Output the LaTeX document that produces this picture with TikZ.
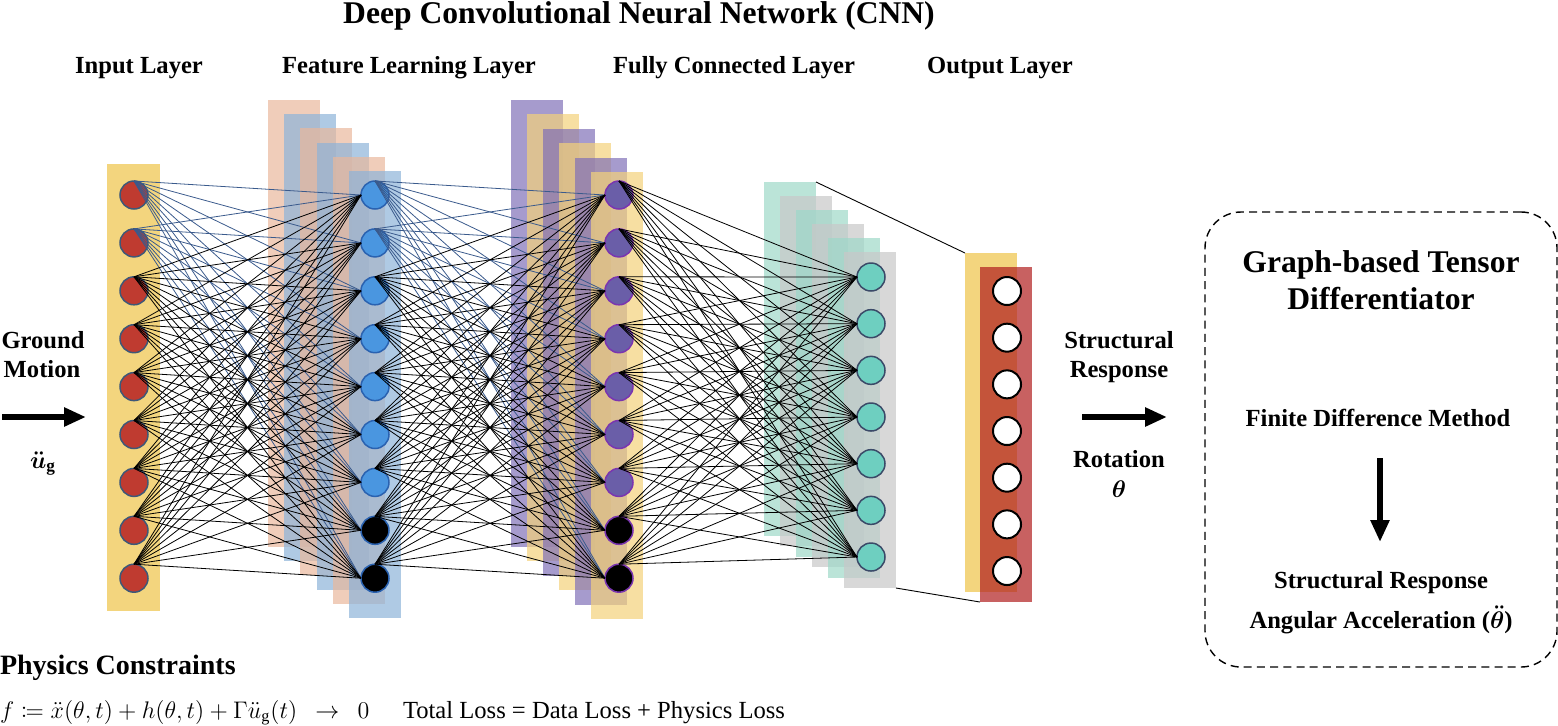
\documentclass[tikz,border=0pt]{standalone}
\usepackage{amsmath}
\usepackage{mathtools}
\usepackage{fontspec}
\setmainfont{Liberation Serif}
\usetikzlibrary{arrows.meta,positioning}

\definecolor{inyellow}{HTML}{F3D57E}
\definecolor{peach}{HTML}{E9B89C}
\definecolor{skyblue}{HTML}{8DB3D9}
\definecolor{lavender}{HTML}{8070B8}
\definecolor{sand}{HTML}{F3D27A}
\definecolor{mint}{HTML}{9ED8C8}
\definecolor{ash}{HTML}{C8C8C8}
\definecolor{outred}{HTML}{B11E1E}
\definecolor{nred}{HTML}{BF3B30}
\definecolor{nredline}{HTML}{3E5878}
\definecolor{nblue}{HTML}{4A96E0}
\definecolor{nblueline}{HTML}{2A62B0}
\definecolor{npurple}{HTML}{6A5EA8}
\definecolor{npurpleline}{HTML}{7A35B0}
\definecolor{nteal}{HTML}{6ECFC0}
\definecolor{ntealline}{HTML}{3A4A68}
\definecolor{linkblue}{HTML}{3A5A8C}

\begin{document}
\begin{tikzpicture}[x=0.5pt, y=-0.5pt,
    every node/.style={inner sep=0pt, outer sep=0pt},
    titletext/.style={font=\fontsize{15.8}{19}\selectfont\bfseries, anchor=base},
    lbl/.style={font=\fontsize{12.3}{15}\selectfont\bfseries, anchor=base},
    plain/.style={font=\fontsize{12.3}{15}\selectfont, anchor=base west},
    stack/.style={anchor=north west, minimum width=26pt, fill opacity=0.7},
    neuron/.style={circle, minimum size=14pt, line width=0.75pt},
    link/.style={line width=0.4pt, draw=black},
    linkb/.style={line width=0.4pt, draw=linkblue},
    proj/.style={line width=0.45pt, draw=black},
    bigarrow/.style={line width=3.3pt, -{Triangle[length=11pt,width=9pt]}},
    tdbox/.style={draw, line width=0.7pt, dash pattern=on 4pt off 2.6pt,
      rounded corners=18pt, anchor=north west}
  ]
  \useasboundingbox (0,0) rectangle (1558,725);

  % headings
  \node[titletext] (title) at (639,23) {Deep Convolutional Neural Network (CNN)};
  \node[lbl] (hin) at (139,73) {Input Layer};
  \node[lbl] (hfl) at (409,73) {Feature Learning Layer};
  \node[lbl] (hfc) at (734,73) {Fully Connected Layer};
  \node[lbl] (hout) at (1000,73) {Output Layer};

  % layer blocks
  \node[stack, fill=inyellow, fill opacity=1, minimum width=26.5pt, minimum height=223.5pt] (inbar) at (107,164) {};
  \foreach \k/\c in {0/peach,1/skyblue,2/peach,3/skyblue,4/peach,5/skyblue}
    \node[stack, fill=\c, minimum height=223.5pt] (fs\k) at ({268+16.2*\k},{100+14.2*\k}) {};
  \foreach \k/\c in {0/lavender,1/sand,2/lavender,3/sand,4/lavender,5/sand}
    \node[stack, fill=\c, minimum height=223.5pt] (cs\k) at ({511+16*\k},{100+14.4*\k}) {};
  \foreach \k/\c in {0/mint,1/ash,2/mint,3/ash,4/mint,5/ash}{
    \pgfmathsetmacro\hh{177-1.8*\k}
    \node[stack, fill=\c, minimum height=\hh pt] (hs\k) at ({764+16*\k},{182+14*\k}) {};
  }
  \node[stack, fill=inyellow, fill opacity=1, minimum height=169.5pt] (oyel) at (965,253) {};
  \node[stack, fill=outred, minimum height=167.5pt] (ored) at (980,267) {};

  % neurons
  \foreach \i in {1,...,9}
    \node[neuron, fill=nred, draw=nredline] (in\i) at (134,{195+47.9*(\i-1)}) {};
  \foreach \i in {1,...,7}{
    \node[neuron, fill=nblue, draw=nblueline] (fl\i) at (375,{195+47.9*(\i-1)}) {};
    \node[neuron, fill=npurple, draw=npurpleline] (fc\i) at (619,{195+47.9*(\i-1)}) {};
    \node[neuron, fill=nteal, draw=ntealline] (hd\i) at (871,{277+46.67*(\i-1)}) {};
    \node[neuron, fill=white, draw=black, line width=1pt] (out\i) at (1007,{291+46.67*(\i-1)}) {};
  }
  \foreach \i in {8,9}{
    \node[neuron, fill=black, draw=nblueline] (fl\i) at (375,{195+47.9*(\i-1)}) {};
    \node[neuron, fill=black, draw=npurpleline] (fc\i) at (619,{195+47.9*(\i-1)}) {};
  }

  % connections
  \foreach \i in {1,...,9}
    \foreach \j in {1,...,9}{
      \ifnum\i<3
        \draw[linkb] (in\i.north) -- (fl\j.west);
        \draw[linkb] (fl\i.north) -- (fc\j.west);
      \else
        \draw[link] (in\i.north) -- (fl\j.west);
        \draw[link] (fl\i.north) -- (fc\j.west);
      \fi
    }
  \foreach \i in {1,...,9}
    \foreach \j in {1,...,7}
      \draw[link] (fc\i.north) -- (hd\j.west);
  \draw[proj] (hs0.north east) -- (oyel.north west);
  \draw[proj] (hs5.south east) -- (ored.south west);

  % input side
  \node[lbl] (gm1) at (43,348) {Ground};
  \node[lbl] (gm2) at (42,377) {Motion};
  \coordinate (gmtail) at (2,417);
  \coordinate (gmtip) at (86,417);
  \draw[bigarrow] (gmtail) -- (gmtip);
  \node[lbl] (ug) at (43,468) {$\boldsymbol{\ddot{u}}_{\mathbf{g}}$};

  % output side
  \node[lbl] (sr1) at (1119,348) {Structural};
  \node[lbl] (sr2) at (1119,377) {Response};
  \coordinate (srtail) at (1082,417);
  \coordinate (srtip) at (1167,417);
  \draw[bigarrow] (srtail) -- (srtip);
  \node[lbl] (rot) at (1119,467) {Rotation};
  \node[lbl] (th) at (1119,497) {$\boldsymbol{\theta}$};

  % differentiator
  \node[tdbox, minimum width=176pt, minimum height=227.5pt] (diff) at (1205,212) {};
  \node[titletext] (gt1) at (1381,272) {Graph-based Tensor};
  \node[titletext] (gt2) at (1381,309) {Differentiator};
  \node[lbl] (fdm) at (1378,426) {Finite Difference Method};
  \coordinate (fdtail) at (1380,458);
  \coordinate (fdtip) at (1380,542);
  \draw[bigarrow] (fdtail) -- (fdtip);
  \node[lbl] (acc1) at (1381,588) {Structural Response};
  \node[lbl] (acc2) at (1381,628) {Angular Acceleration ($\boldsymbol{\ddot{\theta}}$)};

  % physics constraints
  \node[font=\fontsize{14}{17}\selectfont\bfseries, anchor=base west] (pc) at (0,674) {Physics Constraints};
  \node[plain, font=\fontsize{11.6}{14}\selectfont] (pcf) at (0,718) {$f \coloneqq \ddot{x}(\theta,t) + h(\theta,t) + \Gamma\ddot{u}_{\mathrm{g}}(t)\ \ \rightarrow\ \ 0$};
  \node[plain] (loss) at (403,718) {Total Loss = Data Loss + Physics Loss};
\end{tikzpicture}
\end{document}
